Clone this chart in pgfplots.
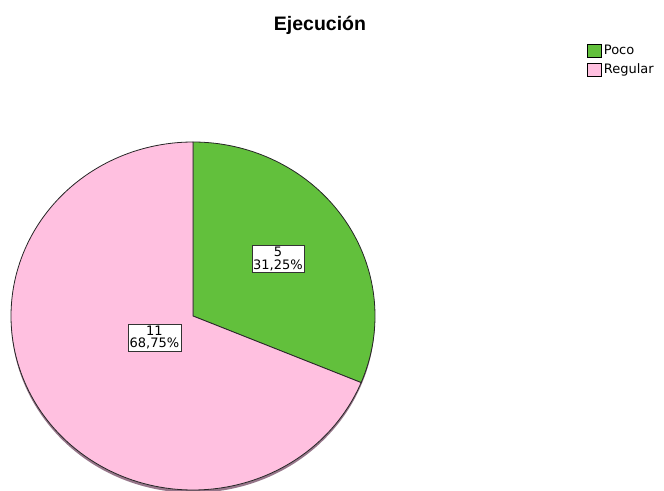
\documentclass[border=0pt]{standalone}
\usepackage{pgfplots}
\pgfplotsset{compat=1.18}
\usepackage{fontspec}
\setmainfont{DejaVu Sans}
\newfontfamily\titlefont{Liberation Sans}
\definecolor{poco}{RGB}{98,192,60}
\definecolor{regular}{RGB}{255,192,224}
\definecolor{shade}{RGB}{150,118,138}
\def\vPoco{5}
\def\vRegular{11}
\pgfmathsetmacro\total{\vPoco+\vRegular}
\pgfmathsetmacro\aPoco{360*\vPoco/\total}
\pgfmathsetmacro\endPoco{90-\aPoco}
\pgfmathsetmacro\endReg{90+360*\vRegular/\total}
\begin{document}
\begin{tikzpicture}
\path[use as bounding box] (0,0) rectangle (664pt,490pt);
\begin{axis}[at={(193pt,174pt)}, anchor=center, scale only axis,
  width=364pt, height=348pt, xmin=-1, xmax=1, ymin=-1, ymax=1,
  hide axis, clip=false,
  legend style={draw=none, fill=none, inner sep=0pt, row sep=3.5pt,
    font=\fontsize{13}{13}\selectfont, cells={anchor=west},
    at={(rel axis cs:1.5824,1.2845)}, anchor=north west},
  legend image code/.code={\draw[#1, draw=black, line width=0.7pt] (0pt,-6.5pt) rectangle (14pt,6.5pt);}]
\addplot[fill=shade, draw=none, domain=0:360, samples=200, variable=\t, forget plot]
  ({cos(t)},{sin(t)-0.016}) -- cycle;
\addplot[fill=poco, draw=black!85, line width=0.8pt, domain=\endPoco:90, samples=100, variable=\t]
  ({cos(t)},{sin(t)}) -- (0,0) -- cycle;
\addlegendentry{Poco}
\addplot[fill=regular, draw=black!85, line width=0.8pt, domain=90:\endReg, samples=200, variable=\t]
  ({cos(t)},{sin(t)}) -- (0,0) -- cycle;
\addlegendentry{Regular}
\node[draw=black!80, fill=white, inner xsep=1.5pt, inner ysep=2pt, align=center,
  font=\fontsize{13}{12.5}\selectfont] at (axis cs:0.467,0.328) {5\\31,25\%};
\node[draw=black!80, fill=white, inner xsep=1.5pt, inner ysep=2pt, align=center,
  font=\fontsize{13}{12.5}\selectfont] at (axis cs:-0.212,-0.124) {11\\68,75\%};
\end{axis}
\node[anchor=base, font=\titlefont\bfseries\fontsize{19.5}{20}\selectfont] at (320pt,459pt) {Ejecución};
\end{tikzpicture}
\end{document}
